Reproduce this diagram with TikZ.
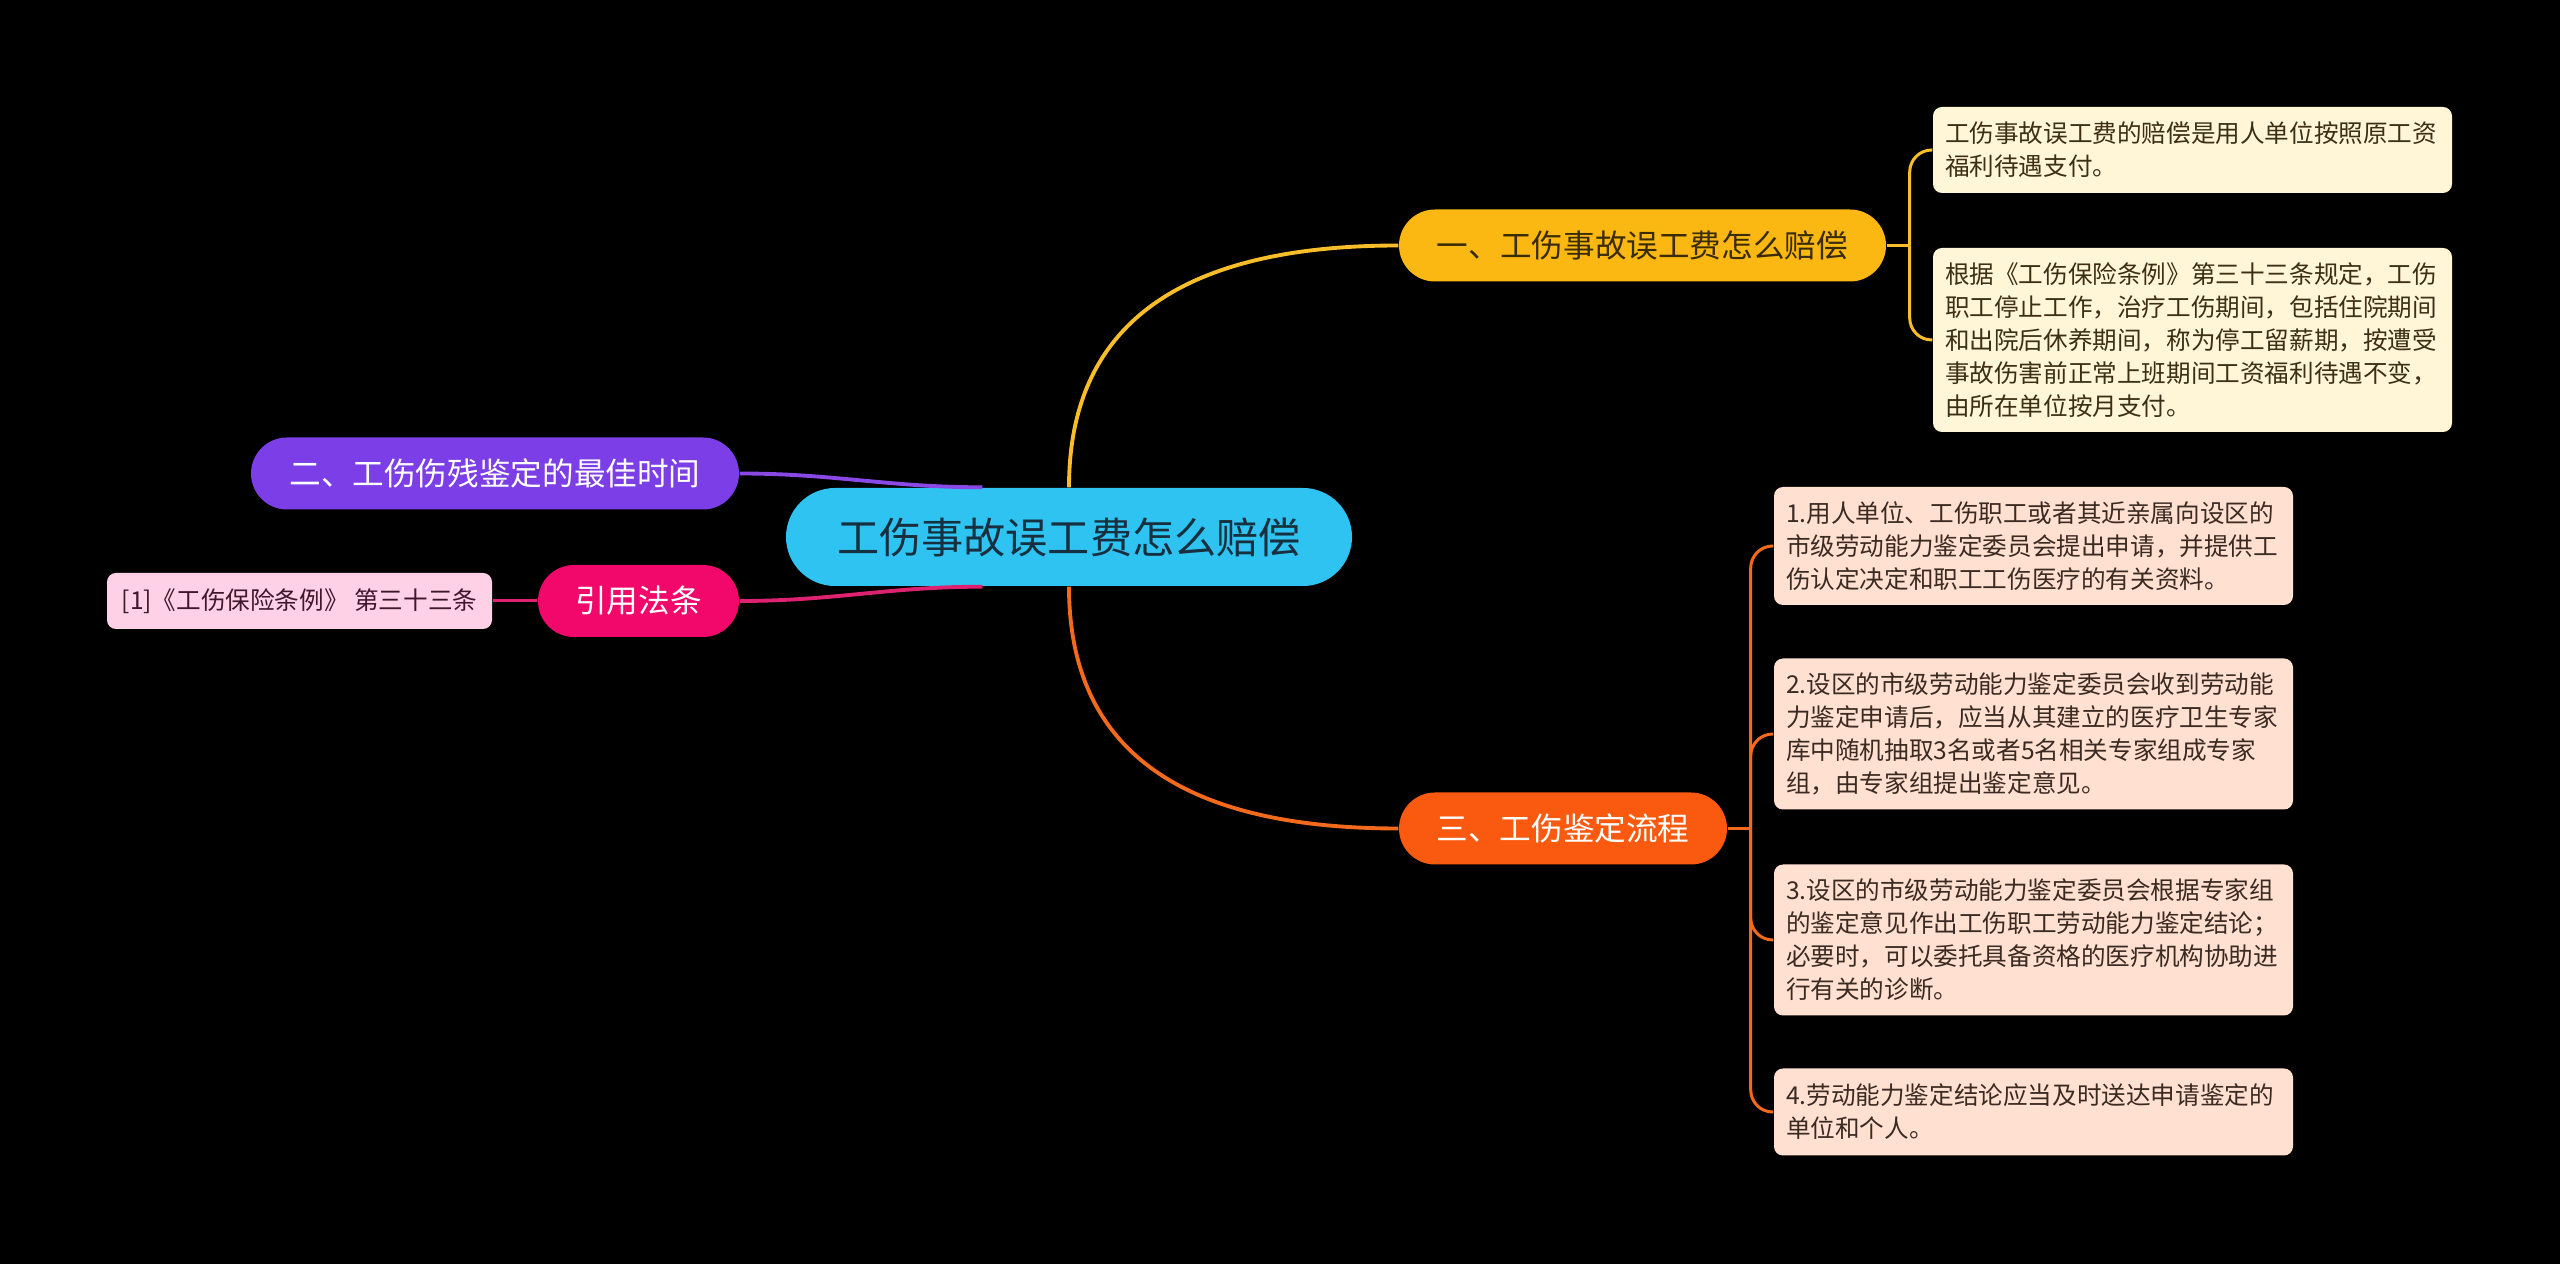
\documentclass[tikz,border=0pt]{standalone}
\usepackage{fontspec}
\newfontfamily\cjk{Noto Sans CJK SC}

\definecolor{cRoot}{HTML}{2FC3F2}
\definecolor{cRootText}{HTML}{17303F}
\definecolor{cYellow}{HTML}{FBB812}
\definecolor{cYellowText}{HTML}{3A2C05}
\definecolor{cPurple}{HTML}{7C3EE6}
\definecolor{cPink}{HTML}{F2086B}
\definecolor{cOrange}{HTML}{FA5A0F}
\definecolor{cCream}{HTML}{FFF5D7}
\definecolor{cCreamText}{HTML}{3D2F14}
\definecolor{cPeach}{HTML}{FFE0D1}
\definecolor{cPeachText}{HTML}{3B2A22}
\definecolor{cRose}{HTML}{FFD1E6}
\definecolor{cRoseText}{HTML}{40182B}
\definecolor{cLineY}{HTML}{F8BE2A}
\definecolor{cLineO}{HTML}{F46A1D}
\definecolor{cLineP}{HTML}{8A49E6}
\definecolor{cLinePk}{HTML}{DE2170}

\begin{document}
\begin{tikzpicture}[
    root/.style={fill=cRoot, text=cRootText, rounded corners=0.49cm,
        minimum width=5.66cm, minimum height=0.98cm,
        font=\cjk\fontsize{12pt}{14pt}\selectfont},
    topic/.style={rounded corners=0.36cm, minimum height=0.72cm,
        font=\cjk\fontsize{9pt}{11pt}\selectfont},
    leaf/.style={rounded corners=0.09cm, text width=4.95cm, inner xsep=0.12cm,
        align=left, font=\cjk\fontsize{7pt}{9.4pt}\selectfont},
    link/.style={line width=1.1pt},
    twig/.style={line width=0.85pt, rounded corners=0.22cm}
]
    % Nền đen, khung 2560 x 1264 (1 px = 0.1 mm)
    \fill[black] (0,0) rectangle (25.6,12.64);
    \useasboundingbox (0,0) rectangle (25.6,12.64);

    % Chủ đề trung tâm
    \node[root] (root) at (10.69,7.27) {工伤事故误工费怎么赔偿};

    % Các nhánh chính
    \node[topic, fill=cYellow, text=cYellowText, minimum width=4.87cm] (b1) at (16.425,10.185) {一、工伤事故误工费怎么赔偿};
    \node[topic, fill=cPurple, text=white, minimum width=4.88cm] (b2) at (4.95,7.905) {二、工伤伤残鉴定的最佳时间};
    \node[topic, fill=cPink, text=white, minimum width=2.01cm] (b3) at (6.385,6.63) {引用法条};
    \node[topic, fill=cOrange, text=white, minimum width=3.28cm] (b4) at (15.63,4.355) {三、工伤鉴定流程};

    % Lá của nhánh một
    \node[leaf, fill=cCream, text=cCreamText, minimum height=0.86cm] (y1) at (21.925,11.14)
        {工伤事故误工费的赔偿是用人单位按照原工资\\福利待遇支付。};
    \node[leaf, fill=cCream, text=cCreamText, minimum height=1.84cm] (y2) at (21.925,9.24)
        {根据《工伤保险条例》第三十三条规定，工伤\\职工停止工作，治疗工伤期间，包括住院期间\\和出院后休养期间，称为停工留薪期，按遭受\\事故伤害前正常上班期间工资福利待遇不变，\\由所在单位按月支付。};

    % Lá của nhánh ba
    \node[leaf, fill=cPeach, text=cPeachText, minimum height=1.18cm] (o1) at (20.335,7.18)
        {1.用人单位、工伤职工或者其近亲属向设区的\\市级劳动能力鉴定委员会提出申请，并提供工\\伤认定决定和职工工伤医疗的有关资料。};
    \node[leaf, fill=cPeach, text=cPeachText, minimum height=1.51cm] (o2) at (20.335,5.30)
        {2.设区的市级劳动能力鉴定委员会收到劳动能\\力鉴定申请后，应当从其建立的医疗卫生专家\\库中随机抽取3名或者5名相关专家组成专家\\组，由专家组提出鉴定意见。};
    \node[leaf, fill=cPeach, text=cPeachText, minimum height=1.51cm] (o3) at (20.335,3.24)
        {3.设区的市级劳动能力鉴定委员会根据专家组\\的鉴定意见作出工伤职工劳动能力鉴定结论；\\必要时，可以委托具备资格的医疗机构协助进\\行有关的诊断。};
    \node[leaf, fill=cPeach, text=cPeachText, minimum height=0.87cm] (o4) at (20.335,1.52)
        {4.劳动能力鉴定结论应当及时送达申请鉴定的\\单位和个人。};

    % Lá của nhánh dẫn luật
    \node[rounded corners=0.09cm, fill=cRose, text=cRoseText, minimum width=3.85cm, minimum height=0.56cm,
        font=\cjk\fontsize{7pt}{9.4pt}\selectfont] (r1) at (2.995,6.63) {[1]《工伤保险条例》 第三十三条};

    % Đường nối từ trung tâm
    \draw[link, cLineY] (root.north) to[out=90, in=180, out distance=1.62cm, in distance=2.19cm] (b1.west);
    \draw[link, cLineO] (root.south) to[out=-90, in=180, out distance=1.62cm, in distance=2.19cm] (b4.west);
    \draw[link, cLineP] ([xshift=1.97cm]root.north west) to[out=180, in=0] (b2.east);
    \draw[link, cLinePk] ([xshift=1.97cm]root.south west) to[out=180, in=0] (b3.east);

    % Đường nối tới các lá
    \coordinate (s1) at ([xshift=0.23cm]b1.east);
    \draw[twig, cLineY] (b1.east) -- (s1);
    \foreach \n in {y1,y2}
        \draw[twig, cLineY] (s1) |- (\n.west);

    \coordinate (s4) at ([xshift=0.23cm]b4.east);
    \draw[twig, cLineO] (b4.east) -- (s4);
    \foreach \n in {o1,o2,o3,o4}
        \draw[twig, cLineO] (s4) |- (\n.west);

    \draw[twig, cLinePk] (b3.west) -- (r1.east);

\end{tikzpicture}
\end{document}
